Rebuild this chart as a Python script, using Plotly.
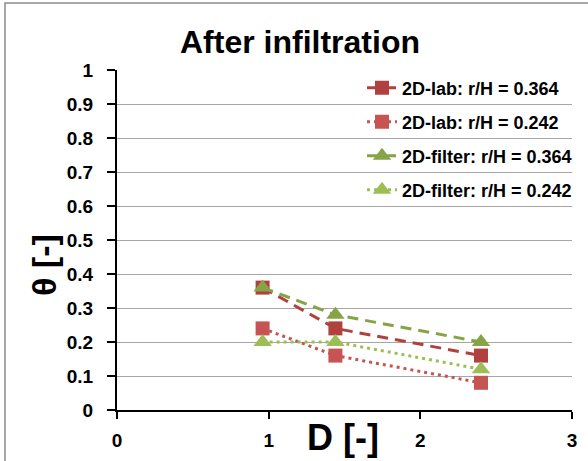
import plotly.graph_objects as go

# Dimensionless distance D and water content theta after infiltration
D = [0.96, 1.44, 2.40]
theta_lab_364 = [0.36, 0.24, 0.16]
theta_lab_242 = [0.24, 0.16, 0.08]
theta_filter_364 = [0.36, 0.28, 0.20]
theta_filter_242 = [0.20, 0.20, 0.12]

names = ["2D-lab: r/H = 0.364", "2D-lab: r/H = 0.242",
         "2D-filter: r/H = 0.364", "2D-filter: r/H = 0.242"]
series = [theta_lab_364, theta_lab_242, theta_filter_364, theta_filter_242]
colors = ["#B0413E", "#C65452", "#86A446", "#9DBE55"]
dashes = ["11px,7px", "3px,4px", "11px,7px", "3px,4px"]
symbols = ["square", "square", "triangle-up", "triangle-up"]
msizes = [14, 14, 16, 16]

FONT = "Liberation Sans"

# plot-area geometry in pixels
W, H = 588, 461
L, R, T, B = 117, 16, 70, 51
pw, ph = W - L - R, H - T - B

def px(x):
    return (x - L) / pw

def py(y):
    return (H - B - y) / ph

fig = go.Figure()
legend_ids = ["legend", "legend2", "legend3", "legend4"]
legend_rows = [88, 122, 156, 190]
for i in range(4):
    fig.add_trace(go.Scatter(
        x=D, y=series[i], name=names[i], mode="lines+markers",
        line=dict(color=colors[i], width=3, dash=dashes[i]),
        marker=dict(symbol=symbols[i], size=msizes[i], color=colors[i]),
        legend=legend_ids[i],
    ))

# legends placed in container coordinates so they never push the margins
legend_common = dict(
    bgcolor="rgba(0,0,0,0)", borderwidth=0, xanchor="left", yanchor="middle",
    xref="container", yref="container",
    font=dict(family=FONT, size=18, color="black", weight="bold"),
)
layout_legends = {}
for i, lid in enumerate(legend_ids):
    layout_legends[lid] = dict(legend_common, x=362 / W, y=1 - legend_rows[i] / H)

tick_font = dict(family=FONT, size=19, color="black", weight="bold")

fig.update_layout(
    width=W, height=H,
    margin=dict(l=L, r=R, t=T, b=B, autoexpand=False),
    paper_bgcolor="white", plot_bgcolor="white",
    showlegend=True,
    **layout_legends,
    xaxis=dict(
        range=[0, 3], tickvals=[0, 1, 2, 3], ticktext=["0", "1", "2", "3"],
        showgrid=False, zeroline=False, automargin=False,
        showline=True, linecolor="black", linewidth=2,
        ticks="outside", ticklen=7, tickwidth=2, tickcolor="black",
        ticklabelstandoff=5, tickfont=tick_font,
    ),
    yaxis=dict(
        range=[0, 1], tickvals=[i / 10 for i in range(11)],
        ticktext=["0", "0.1", "0.2", "0.3", "0.4", "0.5", "0.6", "0.7", "0.8", "0.9", "1"],
        showgrid=True, gridcolor="#A6A6A6", gridwidth=1, zeroline=False, automargin=False,
        showline=True, linecolor="black", linewidth=2,
        ticks="outside", ticklen=8, tickwidth=2, tickcolor="black",
        ticklabelstandoff=10, tickfont=tick_font,
    ),
    annotations=[
        dict(text="After infiltration", x=px(300), y=py(42), xref="paper", yref="paper",
             showarrow=False, xanchor="center", yanchor="middle",
             font=dict(family=FONT, size=32, color="black", weight="bold")),
        dict(text="D [-]", x=px(343), y=py(437), xref="paper", yref="paper",
             showarrow=False, xanchor="center", yanchor="middle",
             font=dict(family=FONT, size=36, color="black", weight="bold")),
        dict(text="θ [-]", x=px(44), y=py(265), xref="paper", yref="paper",
             showarrow=False, xanchor="center", yanchor="middle", textangle=-90,
             font=dict(family=FONT, size=34, color="black", weight="bold")),
    ],
    shapes=[
        dict(type="rect", xref="paper", yref="paper",
             x0=px(5), y0=py(H + 20), x1=px(W + 20), y1=py(3),
             line=dict(color="#8C8C8C", width=1.5), fillcolor="rgba(0,0,0,0)",
             layer="below"),
    ],
)

fig.write_html("out.html")
